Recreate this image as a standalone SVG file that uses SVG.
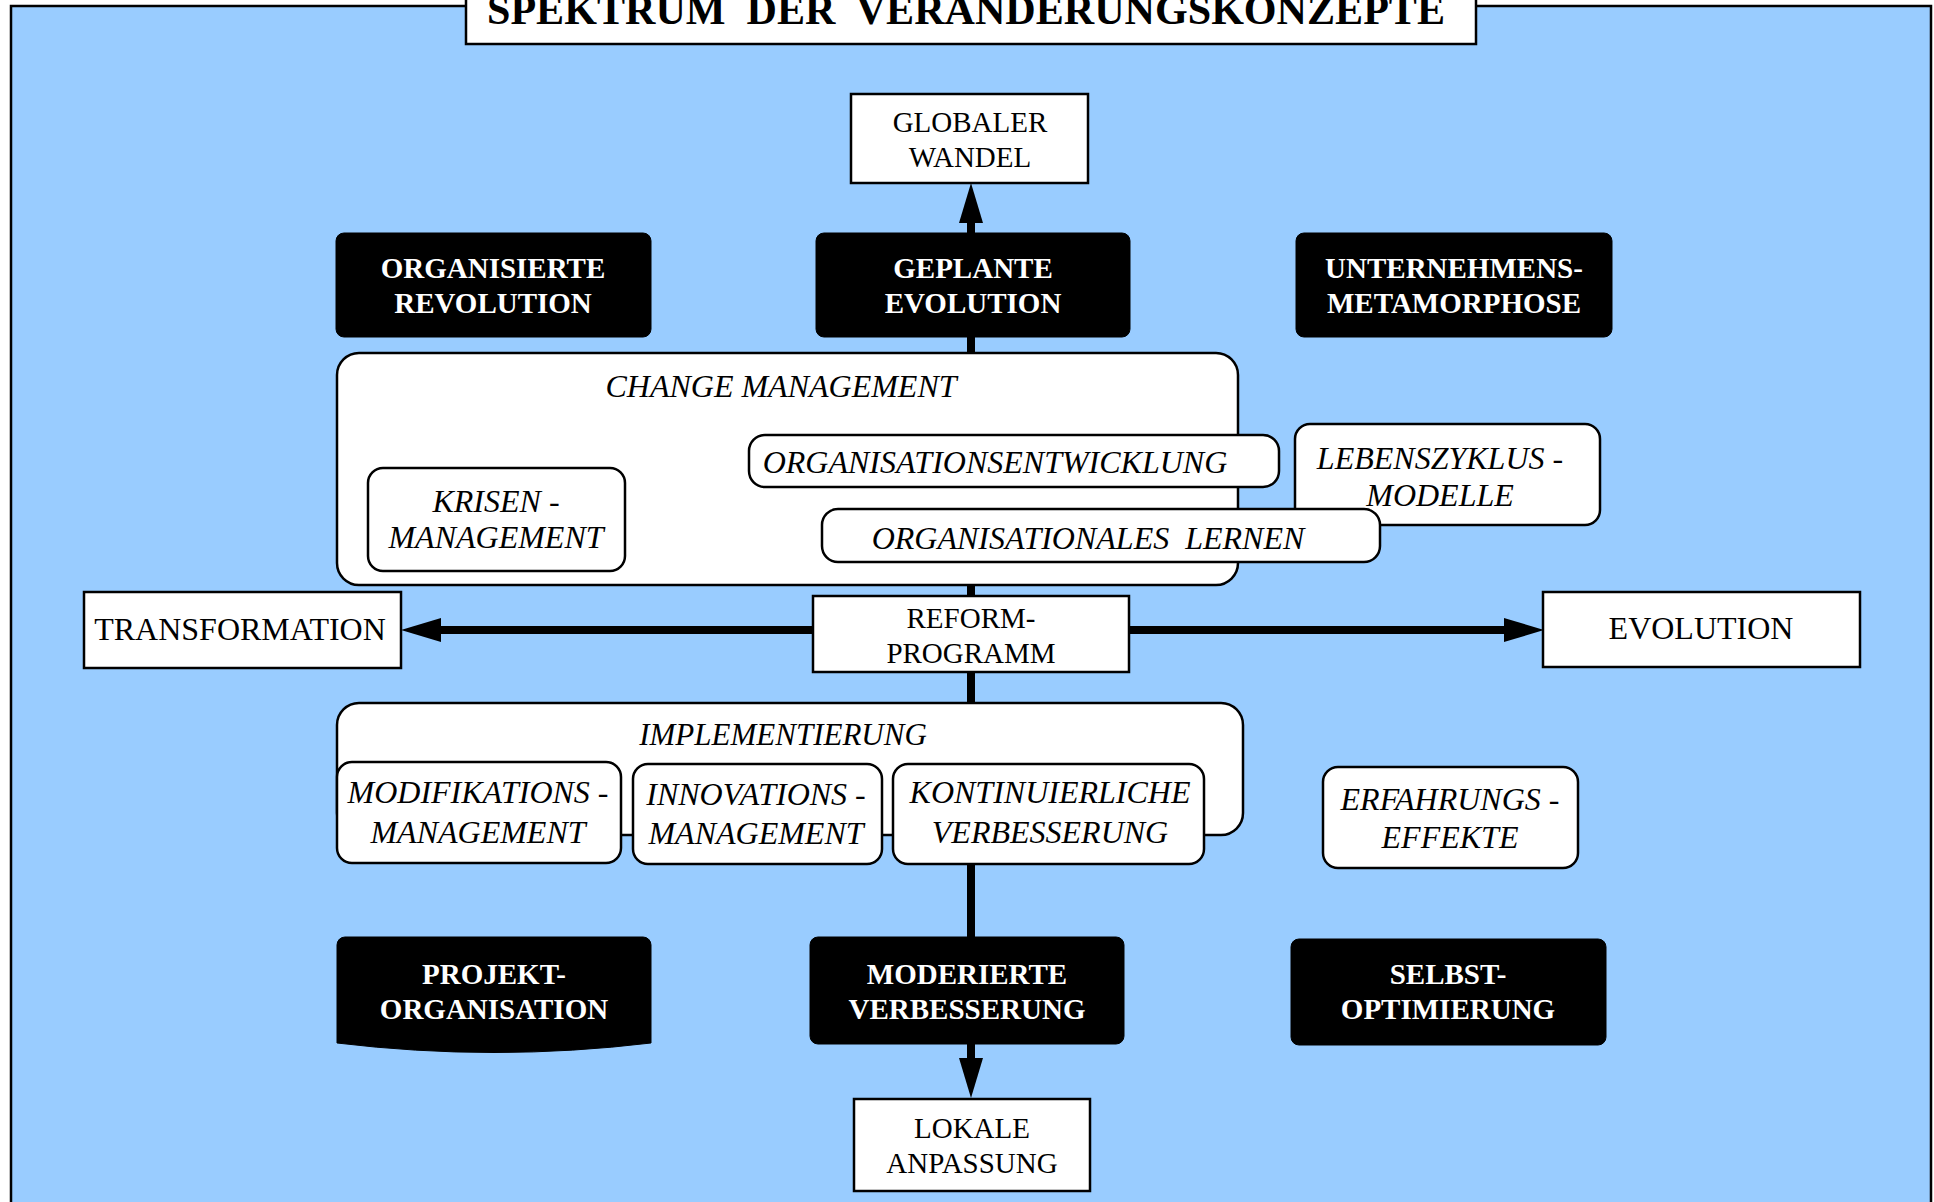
<svg xmlns="http://www.w3.org/2000/svg" width="1934" height="1202" viewBox="0 0 1934 1202">
<style>
.bg{fill:#99CCFF;stroke:#000;stroke-width:2.5}
.wb{fill:#fff;stroke:#000;stroke-width:2.5}
.bb{fill:#000;stroke:#000;stroke-width:1}
.t{font-family:"Liberation Serif","Times New Roman",serif;text-anchor:middle;fill:#000}
.n{font-size:29px}
.l{font-size:32px}
.i{font-size:32px;font-style:italic}
.b{font-size:29px;font-weight:bold;fill:#fff}
.ttl{font-size:42px;font-weight:bold}
.c{stroke:#000;stroke-width:8;fill:none}
</style>
<defs>
<marker id="ah" markerUnits="userSpaceOnUse" markerWidth="40" markerHeight="24" refX="0" refY="12" orient="auto" viewBox="0 0 40 24">
<path d="M0,0 L40,12 L0,24 Z" fill="#000"/>
</marker>
</defs>
<rect class="bg" x="11" y="6" width="1920" height="1220"/>
<g id="title">
<rect class="wb" x="466" y="-10" width="1010" height="54"/>
<text class="t ttl" x="966" y="24" textLength="958" lengthAdjust="spacingAndGlyphs" xml:space="preserve">SPEKTRUM  DER  VERANDERUNGSKONZEPTE</text>
</g>
<g id="connectors">
<line class="c" x1="971" y1="1044" x2="971" y2="233"/>
<line class="c" x1="971" y1="233" x2="971" y2="223" marker-end="url(#ah)"/>
<line class="c" x1="971" y1="1040" x2="971" y2="1058" marker-end="url(#ah)"/>
<line class="c" x1="813" y1="630" x2="441" y2="630" marker-end="url(#ah)"/>
<line class="c" x1="1129" y1="630" x2="1504" y2="630" marker-end="url(#ah)"/>
</g>
<g id="globaler-wandel">
<rect class="wb" x="851" y="94" width="237" height="89"/>
<text class="t n" x="970" y="132">GLOBALER</text>
<text class="t n" x="970" y="167">WANDEL</text>
</g>
<g id="organisierte-revolution">
<rect class="bb" x="336" y="233" width="315" height="104" rx="8"/>
<text class="t b" x="493" y="278">ORGANISIERTE</text>
<text class="t b" x="493" y="313">REVOLUTION</text>
</g>
<g id="geplante-evolution">
<rect class="bb" x="816" y="233" width="314" height="104" rx="8"/>
<text class="t b" x="973" y="278">GEPLANTE</text>
<text class="t b" x="973" y="313">EVOLUTION</text>
</g>
<g id="unternehmens-metamorphose">
<rect class="bb" x="1296" y="233" width="316" height="104" rx="8"/>
<text class="t b" x="1454" y="278">UNTERNEHMENS-</text>
<text class="t b" x="1454" y="313">METAMORPHOSE</text>
</g>
<g id="change-management">
<rect class="wb" x="337" y="353" width="901" height="232" rx="22"/>
<text class="t i" x="781" y="397">CHANGE MANAGEMENT</text>
</g>
<g id="krisen-management">
<rect class="wb" x="368" y="468" width="257" height="103" rx="15"/>
<text class="t i" x="496" y="512">KRISEN -</text>
<text class="t i" x="496" y="548">MANAGEMENT</text>
</g>
<g id="organisationsentwicklung">
<rect class="wb" x="749" y="435" width="530" height="52" rx="16"/>
<text class="t i" x="995" y="473">ORGANISATIONSENTWICKLUNG</text>
</g>
<g id="lebenszyklus-modelle">
<rect class="wb" x="1295" y="424" width="305" height="101" rx="15"/>
<text class="t i" x="1440" y="469">LEBENSZYKLUS -</text>
<text class="t i" x="1440" y="506">MODELLE</text>
</g>
<g id="organisationales-lernen">
<rect class="wb" x="822" y="509" width="558" height="53" rx="16"/>
<text class="t i" x="1088" y="549" xml:space="preserve">ORGANISATIONALES  LERNEN</text>
</g>
<g id="transformation">
<rect class="wb" x="84" y="592" width="317" height="76"/>
<text class="t l" x="240" y="640">TRANSFORMATION</text>
</g>
<g id="reform-programm">
<rect class="wb" x="813" y="596" width="316" height="76"/>
<text class="t n" x="971" y="628">REFORM-</text>
<text class="t n" x="971" y="663">PROGRAMM</text>
</g>
<g id="evolution">
<rect class="wb" x="1543" y="592" width="317" height="75"/>
<text class="t l" x="1701" y="639">EVOLUTION</text>
</g>
<g id="implementierung">
<rect class="wb" x="337" y="703" width="906" height="132" rx="22"/>
<text class="t i" x="783" y="745" style="font-size:31px">IMPLEMENTIERUNG</text>
</g>
<g id="modifikations-management">
<rect class="wb" x="337" y="762" width="284" height="101" rx="15"/>
<text class="t i" x="478" y="803">MODIFIKATIONS -</text>
<text class="t i" x="478" y="843">MANAGEMENT</text>
</g>
<g id="innovations-management">
<rect class="wb" x="633" y="764" width="249" height="100" rx="15"/>
<text class="t i" x="756" y="805">INNOVATIONS -</text>
<text class="t i" x="756" y="844">MANAGEMENT</text>
</g>
<g id="kontinuierliche-verbesserung">
<rect class="wb" x="893" y="764" width="311" height="100" rx="15"/>
<text class="t i" x="1050" y="803">KONTINUIERLICHE</text>
<text class="t i" x="1050" y="843">VERBESSERUNG</text>
</g>
<g id="erfahrungs-effekte">
<rect class="wb" x="1323" y="767" width="255" height="101" rx="15"/>
<text class="t i" x="1450" y="810">ERFAHRUNGS -</text>
<text class="t i" x="1450" y="848">EFFEKTE</text>
</g>
<g id="projekt-organisation">
<path class="bb" d="M337,945 A8,8 0 0 1 345,937 H643 A8,8 0 0 1 651,945 V1043 Q494,1062 337,1043 Z"/>
<text class="t b" x="494" y="984">PROJEKT-</text>
<text class="t b" x="494" y="1019">ORGANISATION</text>
</g>
<g id="moderierte-verbesserung">
<rect class="bb" x="810" y="937" width="314" height="107" rx="8"/>
<text class="t b" x="967" y="984">MODERIERTE</text>
<text class="t b" x="967" y="1019">VERBESSERUNG</text>
</g>
<g id="selbst-optimierung">
<rect class="bb" x="1291" y="939" width="315" height="106" rx="8"/>
<text class="t b" x="1448" y="984">SELBST-</text>
<text class="t b" x="1448" y="1019">OPTIMIERUNG</text>
</g>
<g id="lokale-anpassung">
<rect class="wb" x="854" y="1099" width="236" height="92"/>
<text class="t n" x="972" y="1138">LOKALE</text>
<text class="t n" x="972" y="1173">ANPASSUNG</text>
</g>
</svg>
